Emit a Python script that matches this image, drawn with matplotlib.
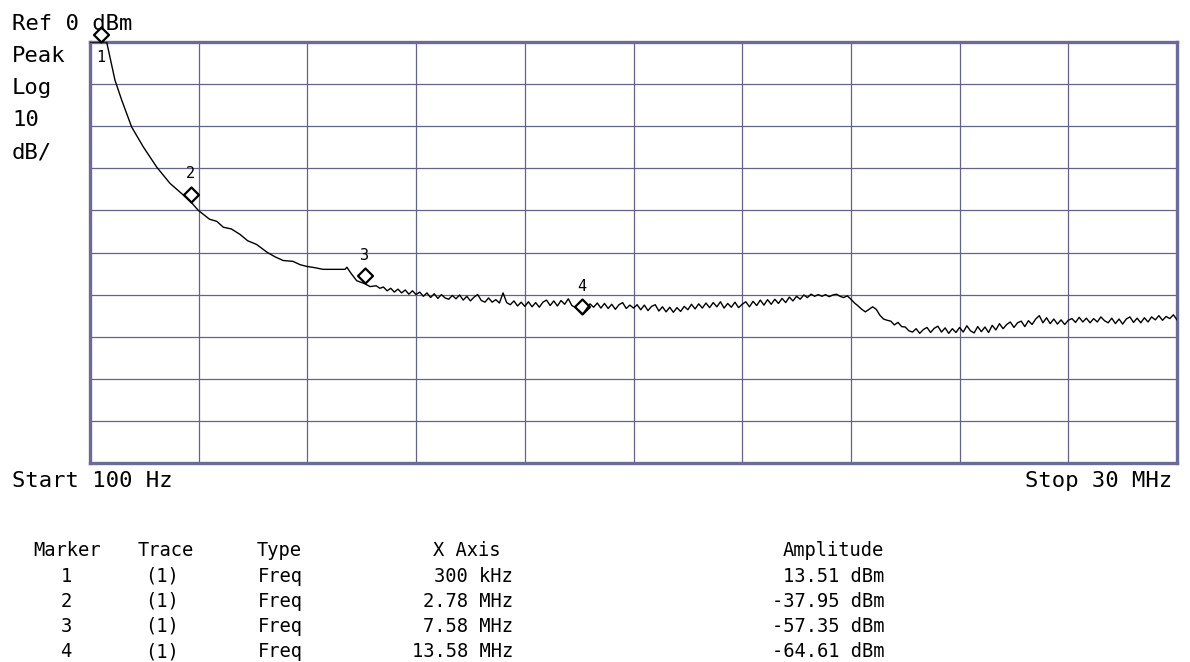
import matplotlib
matplotlib.use("Agg")
import matplotlib.pyplot as plt
import numpy as np
from matplotlib.path import Path

# sweep settings
start_mhz = 0.0001
stop_mhz = 30.0
ref_dbm = 0.0
db_per_div = 10

# trace, steep part (MHz, dBm)
smooth_mhz = [0.0001, 0.3, 0.46, 0.69, 0.875, 1.15, 1.47, 1.84, 2.21, 2.53,
              2.78, 2.99, 3.3, 3.5, 3.68, 3.9, 4.14, 4.35, 4.6, 4.88, 5.1,
              5.33, 5.6, 5.8, 5.98, 6.2, 6.43, 6.7, 7.04, 7.09, 7.2, 7.36,
              7.58, 7.73, 7.9, 8.0]
smooth_dbm = [25.0, 13.51, 0.0, -9.1, -13.8, -20.2, -24.9, -29.7, -33.6, -36.0,
              -37.95, -40.0, -42.1, -42.6, -44.0, -44.4, -45.7, -47.2, -48.1, -49.9, -51.0,
              -51.9, -52.1, -52.9, -53.3, -53.6, -54.0, -54.0, -54.0, -53.5, -54.9, -56.7,
              -57.4, -58.1, -57.9, -58.5]

# noisy floor, one value per 0.1 MHz bin from 8.1 to 30.0 MHz
noise_start = 8.1
noise_step = 0.1
noise_dbm = [
    -58.2, -59.1, -58.5, -59.4, -58.7, -59.6, -58.9, -59.9, -59.1, -60.0,
    -59.4, -60.4, -59.6, -60.7, -59.8, -60.9, -60.0, -60.8, -61.1, -60.2,
    -61.0, -60.1, -61.3, -60.4, -61.5, -60.6, -60.0, -61.4, -61.8, -60.8,
    -61.8, -61.2, -62.0, -59.6, -61.9, -62.4, -61.5, -62.7, -61.8, -62.8,
    -61.7, -62.9, -61.9, -63.0, -61.8, -61.3, -62.6, -61.5, -62.7, -61.4,
    -62.3, -61.0, -62.6, -63.1, -63.8, -64.6, -63.4, -62.2, -63.0, -62.0,
    -63.2, -62.1, -63.3, -62.3, -63.5, -62.4, -61.9, -63.3, -62.5, -63.2,
    -62.4, -63.6, -62.5, -63.8, -62.8, -62.4, -63.9, -62.9, -64.1, -63.0,
    -64.2, -63.1, -64.0, -62.8, -63.6, -62.3, -63.4, -62.2, -63.2, -62.0,
    -63.1, -61.9, -62.9, -61.7, -63.2, -62.1, -63.0, -61.8, -63.1, -62.3,
    -61.7, -62.9, -61.6, -62.6, -61.3, -62.5, -61.2, -62.3, -61.1, -62.1,
    -60.9, -61.9, -60.6, -61.5, -60.4, -61.1, -60.1, -60.7, -59.9, -60.4,
    -60.0, -60.4, -60.0, -60.5, -60.1, -59.9, -60.4, -60.7, -60.3, -61.1,
    -62.0, -62.7, -63.5, -64.1, -63.5, -62.9, -63.5, -64.9, -65.8, -66.1,
    -66.3, -67.2, -66.6, -67.6, -67.7, -68.6, -68.9, -68.1, -69.2, -68.3,
    -67.8, -69.0, -68.0, -67.5, -68.9, -67.9, -69.2, -68.1, -69.0, -67.8,
    -68.9, -67.4, -68.6, -69.1, -67.6, -68.8, -67.7, -69.0, -67.3, -68.4,
    -66.9, -68.1, -67.1, -66.5, -67.8, -66.7, -66.3, -67.6, -66.2, -67.1,
    -65.8, -65.0, -66.7, -65.5, -66.9, -65.8, -67.0, -66.0, -67.1, -66.1,
    -65.7, -66.6, -65.4, -66.5, -65.6, -66.7, -65.7, -66.5, -65.3, -66.2,
    -66.7, -65.6, -66.9, -65.8, -67.0, -65.8, -65.3, -66.6, -65.6, -66.7,
    -65.5, -66.5, -65.3, -66.0, -65.0, -66.1, -65.2, -65.7, -64.8, -66.0,
]

# marker table
marker_ids = [1, 2, 3, 4]
marker_mhz = [0.3, 2.78, 7.58, 13.58]
marker_x_labels = ["300 kHz", "2.78 MHz", "7.58 MHz", "13.58 MHz"]
marker_dbm = [13.51, -37.95, -57.35, -64.61]

noise_mhz = [round(noise_start + i * noise_step, 2) for i in range(len(noise_dbm))]
trace_mhz = np.array(smooth_mhz + noise_mhz)
trace_dbm = np.array(smooth_dbm + noise_dbm)
bottom_dbm = ref_dbm - 10 * db_per_div

W, H = 1190, 662
fig = plt.figure(figsize=(W / 100, H / 100), dpi=100)
fig.patch.set_facecolor("white")

def px(x, y):
    # pixel position -> figure fraction
    return x / W, 1 - y / H

ax = fig.add_axes([90 / W, 1 - 463 / H, 1087 / W, 421 / H])
ax.set_xlim(start_mhz, stop_mhz)
ax.set_ylim(bottom_dbm, ref_dbm)
ax.set_xticks(np.linspace(start_mhz, stop_mhz, 11))
ax.set_yticks(np.arange(bottom_dbm, ref_dbm + 1, db_per_div))
ax.grid(True, color="#62628f", linewidth=0.9)
ax.tick_params(length=0, labelbottom=False, labelleft=False)
for s in ax.spines.values():
    s.set_color("#6a6a9c")
    s.set_linewidth(2.4)

# analyzer clamps the trace at the top line
ax.plot(trace_mhz, np.clip(trace_dbm, bottom_dbm, ref_dbm), color="black",
        linewidth=1.0, zorder=3)

# diamond with its bottom tip on the trace point
diamond = Path([(0, 0), (1, 1), (0, 2), (-1, 1), (0, 0)],
               [Path.MOVETO, Path.LINETO, Path.LINETO, Path.LINETO, Path.CLOSEPOLY])
shown_dbm = np.minimum(marker_dbm, ref_dbm)
ax.plot(marker_mhz, shown_dbm, linestyle="none", marker=diamond, markersize=21.6,
        markerfacecolor="none", markeredgecolor="black", markeredgewidth=1.6,
        zorder=4, clip_on=False)
for mid, mx, my in zip(marker_ids, marker_mhz, shown_dbm):
    dy = -11 if my >= ref_dbm else 20
    ax.annotate(str(mid), (mx, my), xytext=(0, dy), textcoords="offset points",
                ha="center", va="center", fontsize=11, family="DejaVu Sans Mono",
                zorder=5, annotation_clip=False)

mono = "DejaVu Sans Mono"
left_lines = ["Ref 0 dBm", "Peak", "Log", "10", "dB/"]
for i, t in enumerate(left_lines):
    fig.text(*px(12, 24 + 32 * i), t, ha="left", va="center", fontsize=16,
             family=mono)

fig.text(*px(12, 481), "Start 100 Hz", ha="left", va="center", fontsize=16, family=mono)
fig.text(*px(1172, 481), "Stop 30 MHz", ha="right", va="center", fontsize=16, family=mono)

# marker table under the screen
ts = 13.5
hy = 551
fig.text(*px(33, hy), "Marker", ha="left", va="center", fontsize=ts, family=mono)
fig.text(*px(138, hy), "Trace", ha="left", va="center", fontsize=ts, family=mono)
fig.text(*px(257, hy), "Type", ha="left", va="center", fontsize=ts, family=mono)
fig.text(*px(433, hy), "X Axis", ha="left", va="center", fontsize=ts, family=mono)
fig.text(*px(884, hy), "Amplitude", ha="right", va="center", fontsize=ts, family=mono)
for i, (mid, xl, amp) in enumerate(zip(marker_ids, marker_x_labels, marker_dbm)):
    ry = 576 + 25.2 * i
    fig.text(*px(66, ry), str(mid), ha="center", va="center", fontsize=ts, family=mono)
    fig.text(*px(162, ry), "(1)", ha="center", va="center", fontsize=ts, family=mono)
    fig.text(*px(258, ry), "Freq", ha="left", va="center", fontsize=ts, family=mono)
    fig.text(*px(513, ry), xl, ha="right", va="center", fontsize=ts, family=mono)
    fig.text(*px(884, ry), f"{amp:.2f} dBm", ha="right", va="center", fontsize=ts,
             family=mono)

fig.savefig("out.png", dpi=100, facecolor="white")
